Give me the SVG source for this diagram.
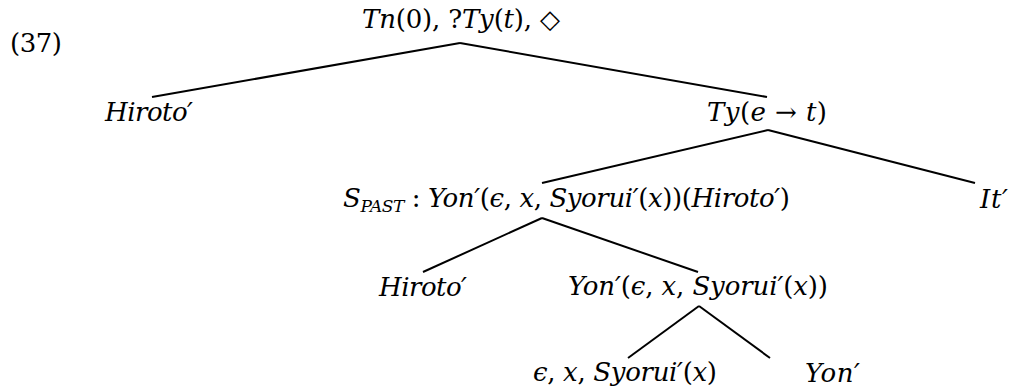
<svg xmlns="http://www.w3.org/2000/svg" width="1010" height="388" viewBox="0 0 1010 388">
<style>
.t{font-family:"DejaVu Serif","Liberation Serif",serif;font-size:26px;font-style:italic;fill:#000}
.u{font-style:normal}
.s{font-size:17px}
.e{stroke:#000;stroke-width:2;fill:none}
</style>
<rect width="1010" height="388" fill="#fff"/>
<g id="edges" class="e">
<line x1="460" y1="43" x2="152" y2="97"/>
<line x1="460" y1="43" x2="767" y2="97"/>
<line x1="768" y1="130" x2="542" y2="183"/>
<line x1="768" y1="130" x2="975" y2="183"/>
<line x1="542" y1="218" x2="423" y2="272"/>
<line x1="542" y1="218" x2="698" y2="272"/>
<line x1="699" y1="306" x2="628" y2="358"/>
<line x1="699" y1="306" x2="770" y2="358"/>
</g>
<g id="label37"><text class="t u" x="10" y="52" textLength="52" lengthAdjust="spacing">(37)</text></g>
<g id="n-root"><text class="t" x="362" y="28" textLength="198" lengthAdjust="spacing">Tn<tspan class="u">(0), ?</tspan>Ty<tspan class="u">(</tspan>t<tspan class="u">), ◇</tspan></text></g>
<g id="n-hiroto1"><text class="t" x="105" y="121" textLength="88" lengthAdjust="spacing">Hiroto′</text></g>
<g id="n-ty"><text class="t" x="707" y="121" textLength="120" lengthAdjust="spacing">Ty<tspan class="u">(</tspan>e<tspan class="u"> → </tspan>t<tspan class="u">)</tspan></text></g>
<g id="n-spast"><text class="t" x="343" y="207" textLength="447" lengthAdjust="spacing">S<tspan class="s" dy="5">PAST</tspan><tspan class="u" dy="-5"> : </tspan>Yon′<tspan class="u">(</tspan>ϵ<tspan class="u">, </tspan>x<tspan class="u">, </tspan>Syorui′<tspan class="u">(</tspan>x<tspan class="u">))(</tspan>Hiroto′<tspan class="u">)</tspan></text></g>
<g id="n-it"><text class="t" x="980" y="208" textLength="28" lengthAdjust="spacing">It′</text></g>
<g id="n-hiroto2"><text class="t" x="379" y="296" textLength="88" lengthAdjust="spacing">Hiroto′</text></g>
<g id="n-yon1"><text class="t" x="568" y="295" textLength="260" lengthAdjust="spacing">Yon′<tspan class="u">(</tspan>ϵ<tspan class="u">, </tspan>x<tspan class="u">, </tspan>Syorui′<tspan class="u">(</tspan>x<tspan class="u">))</tspan></text></g>
<g id="n-eps"><text class="t" x="533" y="381" textLength="184" lengthAdjust="spacing">ϵ<tspan class="u">, </tspan>x<tspan class="u">, </tspan>Syorui′<tspan class="u">(</tspan>x<tspan class="u">)</tspan></text></g>
<g id="n-yon2"><text class="t" x="805" y="382" textLength="55" lengthAdjust="spacing">Yon′</text></g>
</svg>
